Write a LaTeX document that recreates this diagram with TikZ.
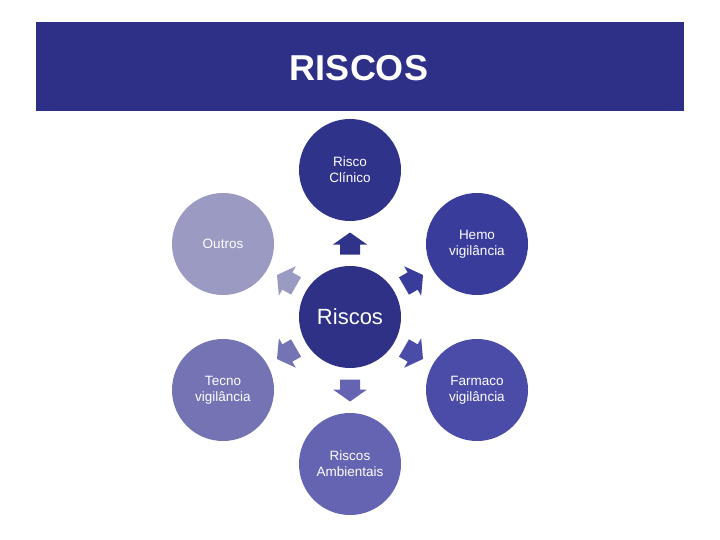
\documentclass[tikz,border=0pt]{standalone}
\usepackage{fontspec}
\setmainfont{Liberation Sans}
\usetikzlibrary{calc}
\definecolor{hdr}{HTML}{2E2F86}
\definecolor{cCenter}{HTML}{2F3186}
\definecolor{cTop}{HTML}{30338A}
\definecolor{cHemo}{HTML}{3A3C9C}
\definecolor{cFarm}{HTML}{4B4CA8}
\definecolor{cAmb}{HTML}{6464B2}
\definecolor{cTec}{HTML}{7474B4}
\definecolor{cOut}{HTML}{9A9AC2}
\tikzset{
  bubble/.style={circle, minimum size=102pt, inner sep=0pt, text=white, align=center,
    font=\fontsize{13.5}{16}\selectfont},
  barrow/.pic={\fill[pic actions] (-11,-10) -- (-1,-10) -- (-1,-17) -- (11,0) -- (-1,17) -- (-1,10) -- (-11,10) -- cycle;}
}
\begin{document}
\begin{tikzpicture}[x=1pt,y=-1pt]
\useasboundingbox (0,0) rectangle (720,540);
\fill[white] (0,0) rectangle (720,540);
\node[fill=hdr, minimum width=648pt, minimum height=89pt, inner sep=0pt, anchor=north west] (header) at (36,22) {};
\node[text=white, font=\fontsize{36}{40}\bfseries\selectfont] (title) at (359,68) {RISCOS};

\node[bubble, fill=cCenter, font=\fontsize{22}{26}\selectfont] (C) at (350,317) {Riscos};
\node[bubble, fill=cTop] (T) at (350,170) {Risco\\Clínico};
\node[bubble, fill=cHemo] (H) at (477,244) {Hemo\\vigilância};
\node[bubble, fill=cFarm] (F) at (477,390) {Farmaco\\vigilância};
\node[bubble, fill=cAmb] (A) at (350,464) {Riscos\\Ambientais};
\node[bubble, fill=cTec] (V) at (223,390) {Tecno\\vigilância};
\node[bubble, fill=cOut] (O) at (223,244) {Outros};

\pic[fill=cTop, rotate=90] at ($(C)!0.5!(T)$) {barrow};
\pic[fill=cHemo, rotate=30] at ($(C)!0.5!(H)$) {barrow};
\pic[fill=cFarm, rotate=-30] at ($(C)!0.5!(F)$) {barrow};
\pic[fill=cAmb, rotate=-90] at ($(C)!0.5!(A)$) {barrow};
\pic[fill=cTec, rotate=-150] at ($(C)!0.5!(V)$) {barrow};
\pic[fill=cOut, rotate=150] at ($(C)!0.5!(O)$) {barrow};
\end{tikzpicture}
\end{document}
